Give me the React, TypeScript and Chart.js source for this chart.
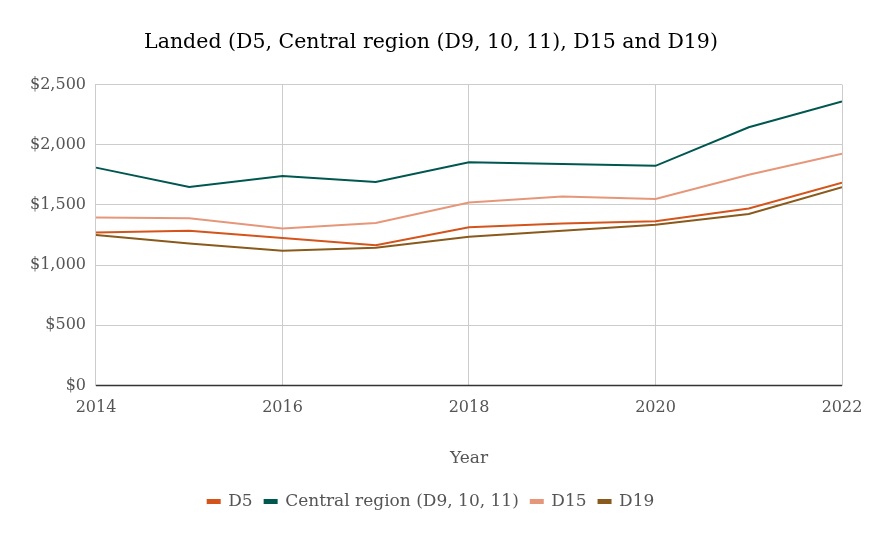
import React, { useEffect, useRef } from "react";
import { Chart, registerables } from "chart.js";

Chart.register(...registerables);

const years = [2014, 2015, 2016, 2017, 2018, 2019, 2020, 2021, 2022];
const d5 = [1270, 1285, 1225, 1165, 1315, 1345, 1365, 1470, 1685];
const central = [1810, 1650, 1740, 1690, 1855, 1840, 1825, 2145, 2360];
const d15 = [1395, 1390, 1305, 1350, 1520, 1570, 1550, 1750, 1925];
const d19 = [1250, 1180, 1120, 1145, 1235, 1285, 1335, 1425, 1648];
const seriesNames = ["D5", "Central region (D9, 10, 11)", "D15", "D19"];
const seriesColors = ["#d4541c", "#00574f", "#e6977a", "#8a5a1c"];
const titleText = "Landed (D5, Central region (D9, 10, 11), D15 and D19)";
const xTitle = "Year";

const FONT = "'DejaVu Serif', 'Liberation Serif', serif";

export default function App() {
  const ref = useRef<HTMLCanvasElement | null>(null);
  useEffect(() => {
    if (!ref.current) return;
    const all = [d5, central, d15, d19];
    const chart = new Chart(ref.current, {
      type: "line",
      data: {
        datasets: all.map((vals, i) => ({
          label: seriesNames[i],
          data: vals.map((v, j) => ({ x: years[j], y: v })),
          borderColor: seriesColors[i],
          backgroundColor: seriesColors[i],
          borderWidth: 2,
          pointRadius: 0,
          tension: 0,
        })),
      },
      options: {
        animation: false,
        responsive: false,
        maintainAspectRatio: false,
        layout: { padding: { left: 20, right: 27, top: 10, bottom: 18 } },
        plugins: {
          title: {
            display: true,
            text: titleText,
            color: "#000",
            font: { family: FONT, size: 20.5, weight: "normal" },
            padding: { top: 20, bottom: 30 },
          },
          legend: {
            position: "bottom",
            labels: {
              color: "#555",
              font: { family: FONT, size: 17 },
              boxWidth: 12,
              boxHeight: 3,
              padding: 12,
            },
          },
          tooltip: { enabled: false },
        },
        scales: {
          x: {
            type: "linear",
            min: 2014,
            max: 2022,
            ticks: {
              stepSize: 2,
              color: "#555",
              font: { family: FONT, size: 16 },
              callback: (v: any) => String(v),
              maxRotation: 0,
              padding: 3,
            },
            grid: {
              color: "#cccccc",
              drawTicks: true,
              tickLength: 10,
              tickColor: "rgba(0,0,0,0)",
            },
            border: { color: "#cccccc" },
            title: {
              display: true,
              text: xTitle,
              color: "#555",
              font: { family: FONT, size: 17 },
              padding: { top: 28, bottom: 12 },
            },
          },
          y: {
            min: 0,
            max: 2500,
            ticks: {
              stepSize: 500,
              color: "#555",
              font: { family: FONT, size: 16 },
              padding: 10,
              callback: (v: any) => "$" + Number(v).toLocaleString("en-US"),
            },
            grid: { color: "#cccccc", drawTicks: false },
            border: { color: "#cccccc" },
          },
        },
      },
      plugins: [
        {
          id: "baseline",
          afterDatasetsDraw(c: any) {
            const { ctx, chartArea, scales } = c;
            const y = scales.y.getPixelForValue(0);
            ctx.save();
            ctx.strokeStyle = "#333";
            ctx.lineWidth = 1.5;
            ctx.beginPath();
            ctx.moveTo(chartArea.left, y);
            ctx.lineTo(chartArea.right, y);
            ctx.stroke();
            ctx.restore();
          },
        },
      ],
    });
    return () => chart.destroy();
  }, []);
  return (
    <div style={{ position: "fixed", left: 0, top: 0, width: 869, height: 538, background: "#fff" }}>
      <canvas ref={ref} width={869} height={538} style={{ width: 869, height: 538 }} />
    </div>
  );
}
